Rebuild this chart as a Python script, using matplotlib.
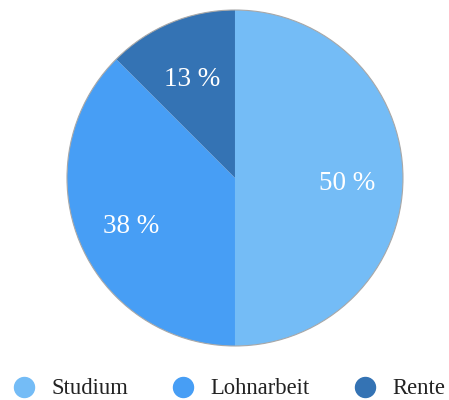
import matplotlib
matplotlib.use("Agg")
import matplotlib.pyplot as plt
from matplotlib.lines import Line2D
from matplotlib.patches import Circle

plt.rcParams['font.family'] = ['Liberation Serif', 'DejaVu Serif']

# data
categories = ['Studium', 'Lohnarbeit', 'Rente']
shares = [50, 37.5, 12.5]
colors = ['#74bcf6', '#479ef5', '#3473b4']

fig = plt.figure(figsize=(4.49, 4.0), dpi=100)
ax = fig.add_axes([0.1492, 0.135, 0.7483, 0.84])

wedges, texts, autotexts = ax.pie(
    shares, colors=colors, startangle=90, counterclock=False,
    autopct=lambda p: f'{int(p + 0.5)} %', pctdistance=0.67,
    wedgeprops=dict(linewidth=0),
    textprops=dict(color='white', fontsize=19.5))
# labels sit a little below the wedge centre line
for t in autotexts:
    x, y = t.get_position()
    t.set_position((x, y - 0.035))
ax.add_patch(Circle((0, 0), 1, fill=False, edgecolor='#a8a8a8', linewidth=0.8, clip_on=False))
ax.set_xlim(-1, 1)
ax.set_ylim(-1, 1)
ax.set_aspect('equal')

# legend
handles = [Line2D([], [], linestyle='none', marker='o', markersize=14.4,
                  markerfacecolor=c, markeredgecolor=c) for c in colors]
fig.legend(handles, categories, loc='center', bbox_to_anchor=(229 / 449, 1 - 389 / 400),
           ncol=3, frameon=False, fontsize=16.3, handlelength=1.0,
           handletextpad=0.7, columnspacing=1.95, labelcolor='#222222')

fig.savefig('out.png', dpi=100)
